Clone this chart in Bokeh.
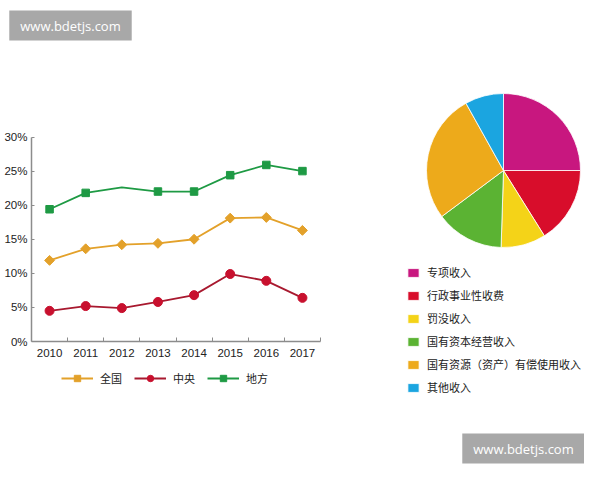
import math
from bokeh.plotting import figure
from bokeh.models import (Range1d, FixedTicker, PrintfTickFormatter, Legend, LegendItem,
                          Label, ColumnDataSource)
from bokeh.embed import file_html
from bokeh.resources import INLINE

# ---------------- data ----------------
years = ["2010", "2011", "2012", "2013", "2014", "2015", "2016", "2017"]
national = [11.9, 13.6, 14.2, 14.4, 15.0, 18.1, 18.2, 16.3]   # 全国
central = [4.5, 5.2, 4.9, 5.8, 6.8, 9.9, 8.9, 6.4]            # 中央
local = [19.4, 21.8, 22.6, 22.0, 22.0, 24.4, 25.9, 25.0]      # 地方
local_marker = [True, True, False, True, True, True, True, True]
y_ticks = [0, 5, 10, 15, 20, 25, 30]
y_max = 30
series_names = ["全国", "中央", "地方"]

pie_labels = ["专项收入", "行政事业性收费", "罚没收入", "国有资本经营收入",
              "国有资源（资产）有偿使用收入", "其他收入"]
pie_values = [25.0, 16.1, 9.4, 14.3, 27.1, 8.1]
pie_colors = ["#C8177F", "#D80D2B", "#F4D318", "#5BB333", "#EDAA1B", "#1BA5E0"]

watermark = "www.bdetjs.com"

# ---------------- styles / layout ----------------
ORANGE = "#E3A12A"
RED_LINE = "#A8192F"
RED_MARK = "#C8102E"
GREEN = "#1E9A44"
AXIS = "#8C8C8C"
TXT = "#222222"
LATIN = "Liberation Sans"
CJK = "Noto Sans CJK SC"

W, H = 584, 464
# line-chart plotting box in canvas pixels (measured from top-left)
BL, BR, BT, BB = 31, 320, 136.5, 341
n = len(years)
kx = (BR - BL) / n
ky = (BB - BT) / y_max
x0 = -0.5 - BL / kx
x1 = x0 + W / kx
y0 = -(H - BB) / ky
y1 = y0 + H / ky

p = figure(width=W, height=H, x_range=Range1d(x0, x1), y_range=Range1d(y0, y1),
           output_backend="svg", toolbar_location=None, min_border=0)
p.extra_x_ranges = {"px": Range1d(0, W)}
p.extra_y_ranges = {"py": Range1d(0, H)}
p.outline_line_color = None
p.grid.visible = False
p.background_fill_color = "white"
p.border_fill_color = "white"

xs = list(range(n))
l1 = p.line(xs, national, color=ORANGE, line_width=1.8)
s1 = p.scatter(xs, national, marker="square", angle=math.pi / 4, size=7, color=ORANGE)
l2 = p.line(xs, central, color=RED_LINE, line_width=1.8)
s2 = p.scatter(xs, central, marker="circle", size=9, color=RED_MARK)
l3 = p.line(xs, local, color=GREEN, line_width=1.8)
lx = [x for x, m in zip(xs, local_marker) if m]
ly = [y for y, m in zip(local, local_marker) if m]
s3 = p.scatter(lx, ly, marker="square", size=7.5, color=GREEN)

xa = p.xaxis[0]
xa.fixed_location = 0
xa.bounds = (-0.5, n - 0.5)
xa.ticker = FixedTicker(ticks=xs, minor_ticks=[x + 0.5 for x in xs])
xa.major_label_overrides = {x: y for x, y in zip(xs, years)}
xa.major_tick_in = 0
xa.major_tick_out = 0
xa.minor_tick_in = 4
xa.minor_tick_out = 0
xa.minor_tick_line_color = AXIS
xa.axis_line_color = AXIS
xa.axis_line_width = 1.5
xa.major_label_standoff = 7
xa.major_label_text_font = LATIN
xa.major_label_text_font_size = "11.5px"
xa.major_label_text_color = TXT

ya = p.yaxis[0]
ya.fixed_location = -0.5
ya.bounds = (0, y_max)
ya.ticker = FixedTicker(ticks=y_ticks)
ya.formatter = PrintfTickFormatter(format="%d%%")
ya.major_tick_in = 3
ya.major_tick_out = 0
ya.minor_tick_in = 0
ya.minor_tick_out = 0
ya.major_tick_line_color = AXIS
ya.axis_line_color = AXIS
ya.axis_line_width = 1.5
ya.major_label_standoff = 4
ya.major_label_text_font = LATIN
ya.major_label_text_font_size = "11.5px"
ya.major_label_text_color = TXT

leg1 = Legend(items=[LegendItem(label=series_names[0], renderers=[l1, s1]),
                     LegendItem(label=series_names[1], renderers=[l2, s2]),
                     LegendItem(label=series_names[2], renderers=[l3, s3])],
              orientation="horizontal", location=(61, 78),
              glyph_width=32, glyph_height=16, label_height=16, label_standoff=7,
              spacing=12, padding=0, margin=0, border_line_color=None,
              background_fill_alpha=0, label_text_font=CJK,
              label_text_font_size="11px", label_text_color=TXT)
p.add_layout(leg1)

# ---------------- pie chart ----------------
total = sum(pie_values)
starts, ends = [], []
a = math.pi / 2
for v in pie_values:
    b = a - v / total * 2 * math.pi
    starts.append(b)
    ends.append(a)
    a = b
src = ColumnDataSource(dict(start=starts, end=ends, color=pie_colors, label=pie_labels))
wr = p.wedge(x=503, y=H - 170, radius=77, radius_units="screen",
             start_angle="start", end_angle="end", direction="anticlock",
             fill_color="color", line_color="white", line_width=0.8, source=src,
             x_range_name="px", y_range_name="py")

leg2 = Legend(items=[LegendItem(label=lab, renderers=[wr], index=i)
                     for i, lab in enumerate(pie_labels)],
              location=(406, 67), glyph_width=14, glyph_height=11, label_height=20,
              label_standoff=7, spacing=3, padding=0, margin=0,
              border_line_color=None, background_fill_alpha=0,
              label_text_font=CJK, label_text_font_size="11px",
              label_text_color=TXT)
p.add_layout(leg2)

# ---------------- watermarks ----------------
for wx, wy in [(70, H - 25), (523, H - 448)]:
    p.add_layout(Label(x=wx, y=wy, x_units="screen", y_units="screen", text=watermark,
                       text_color="white", text_font="Open Sans", text_font_size="13px",
                       text_align="center", text_baseline="middle",
                       background_fill_color="#A8A8A8",
                       padding=dict(left=11, right=11, top=6, bottom=6)))

open("out.html", "w").write(file_html(p, INLINE))
